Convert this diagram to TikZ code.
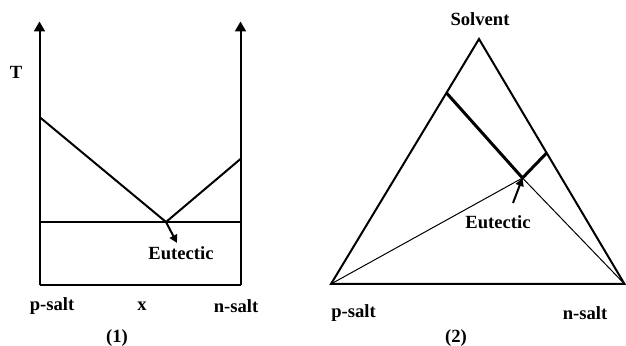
\documentclass[tikz,border=0pt]{standalone}
\usepackage{fontspec}
\setmainfont{Liberation Serif}
\usetikzlibrary{arrows.meta, calc}

\begin{document}
\begin{tikzpicture}[
    x=0.5pt, y=-0.5pt,
    lbl/.style={font=\fontsize{9.3}{11}\selectfont\bfseries, inner sep=0pt},
    frame/.style={line width=1pt},
    axis/.style={line width=1pt, -{Triangle[length=5pt, width=5.5pt]}},
    tie/.style={line width=1.5pt},
    ray/.style={line width=0.5pt},
    pointer/.style={line width=1pt, -{Triangle[length=4pt, width=4pt]}}
]
    \useasboundingbox (0,0) rectangle (626,346);

    % Binary diagram (1)
    \coordinate (o1) at (39.5,285.5);
    \coordinate (r1) at (240.5,285.5);
    \coordinate (ytop) at (39.5,21.5);
    \coordinate (rtop) at (240.5,21.5);
    \coordinate (lA) at (39.5,117);
    \coordinate (rA) at (240.5,159);
    \coordinate (lE) at (39.5,222);
    \coordinate (rE) at (240.5,222);
    \coordinate (eu1) at (166,222);
    \coordinate (eu1tip) at (177,243);

    \draw[axis] (o1) -- (ytop);
    \draw[axis] (r1) -- (rtop);
    \draw[frame] (o1) -- (r1);
    \draw[frame] (lE) -- (rE);
    \draw[frame] (lA) -- (eu1) -- (rA);
    \draw[pointer] (eu1) -- (eu1tip);

    \node[lbl] (t) at (16,72) {T};
    \node[lbl] (eutA) at (181,253) {Eutectic};
    \node[lbl] (psaltA) at (52,306) {p-salt};
    \node[lbl] (xA) at (142,306) {x};
    \node[lbl] (nsaltA) at (236,306) {n-salt};
    \node[lbl] (capA) at (117,338) {(1)};

    % Ternary diagram (2)
    \coordinate (apex) at (479,39);
    \coordinate (pl) at (331,284);
    \coordinate (nr) at (624.5,284);
    \coordinate (sL) at ($(pl)!0.78!(apex)$);
    \coordinate (sR) at ($(nr)!0.535!(apex)$);
    \coordinate (eu2) at (522.5,178);
    \coordinate (eu2tail) at (513,203);

    \draw[frame, line join=miter] (pl) -- (apex) -- (nr) -- cycle;
    \draw[tie] (sL) -- (eu2) -- (sR);
    \draw[ray] (pl) -- (eu2) -- (nr);
    \draw[pointer] (eu2tail) -- (eu2);

    \node[lbl] (solvent) at (480,19) {Solvent};
    \node[lbl] (eutB) at (498,222) {Eutectic};
    \node[lbl] (psaltB) at (353.5,313) {p-salt};
    \node[lbl] (nsaltB) at (585,313) {n-salt};
    \node[lbl] (capB) at (456,338) {(2)};
\end{tikzpicture}
\end{document}
